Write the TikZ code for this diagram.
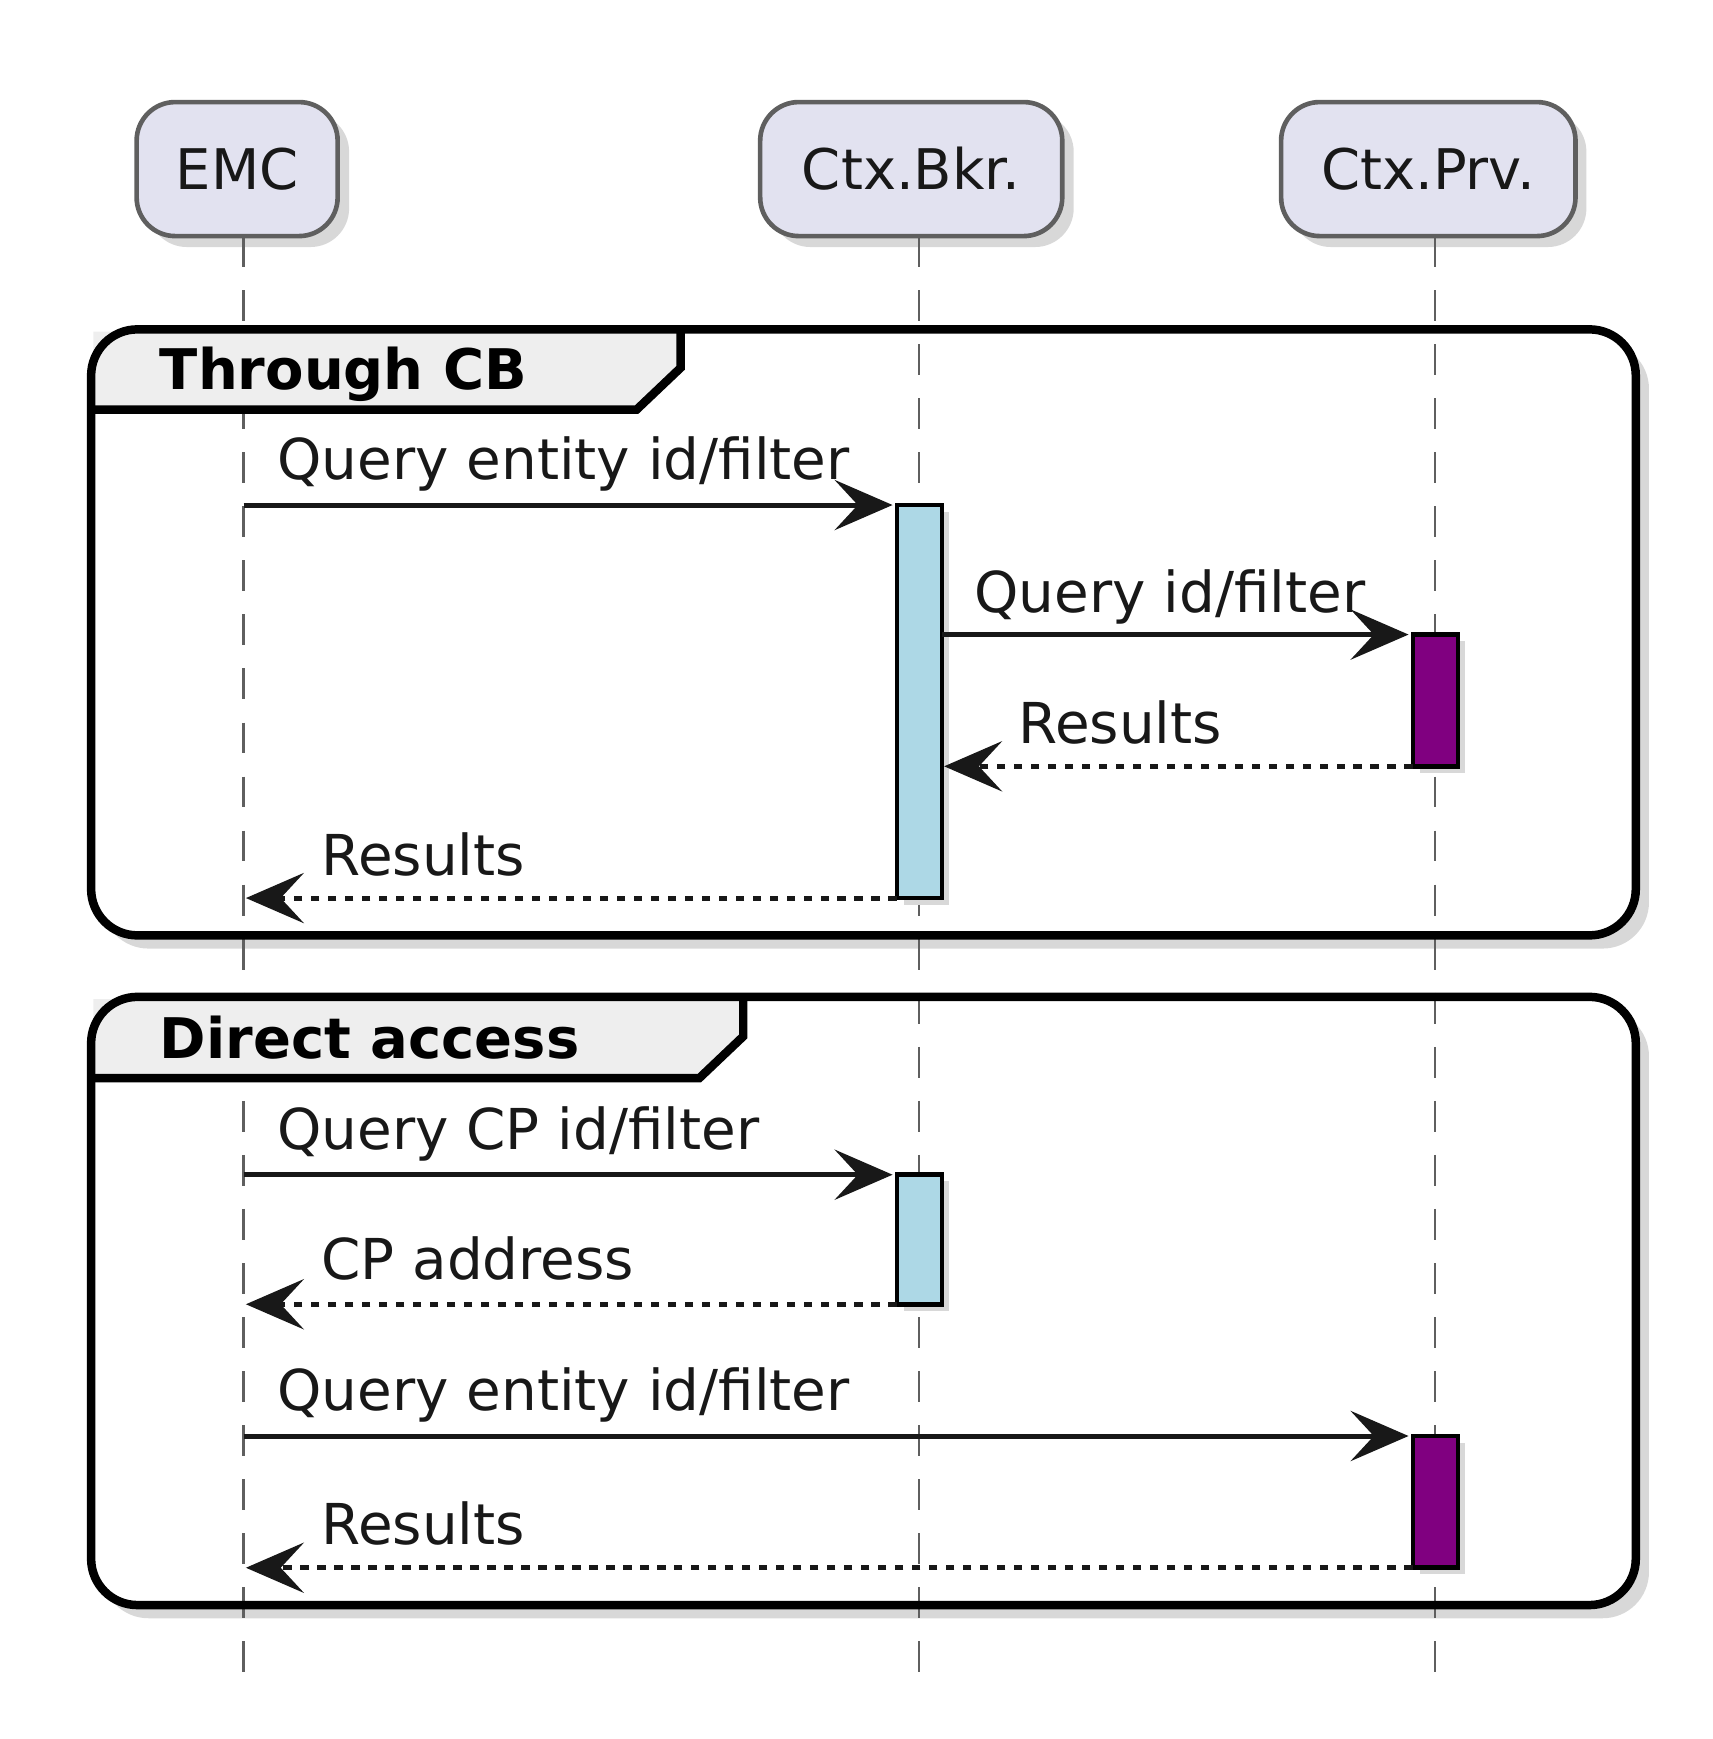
\documentclass[tikz,border=0pt]{standalone}
\usepackage{fontspec}
\setmainfont{DejaVu Sans}
\usetikzlibrary{arrows.meta,calc}
\definecolor{partfill}{HTML}{E2E2F0}
\definecolor{partdraw}{HTML}{5F5F5F}
\definecolor{shadowc}{HTML}{D8D8D8}
\definecolor{tabfill}{HTML}{EEEEEE}
\definecolor{actblue}{HTML}{ADD8E6}
\definecolor{actpurple}{HTML}{800080}
\definecolor{txt}{HTML}{181818}
\begin{document}
\begin{tikzpicture}[x=0.01cm,y=-0.01cm,
  part/.style={draw=partdraw,fill=partfill,rounded corners=10,line width=1.2pt,minimum height=1.22cm,text=txt,font=\fontsize{14.5}{18}\selectfont,inner sep=0},
  life/.style={draw=partdraw,line width=0.7pt,dash pattern=on 8pt off 6pt},
  grp/.style={draw=black,line width=2.2pt,rounded corners=12},
  act/.style={draw=black,line width=1.2pt},
  msg/.style={line width=1.3pt,draw=txt,-{Stealth[length=15pt,width=13pt,inset=6pt]}},
  ret/.style={msg,dash pattern=on 2.2pt off 2.2pt},
  lbl/.style={anchor=base west,text=txt,font=\fontsize{14.6}{17}\selectfont,inner sep=0},
  gtitle/.style={anchor=base west,font=\bfseries\fontsize{14.5}{17}\selectfont,inner sep=0}]
\useasboundingbox (0,0) rectangle (1560,1584);
\coordinate (emctop) at (222,215); \coordinate (emcbot) at (222,1532);
\coordinate (bkrtop) at (837,215); \coordinate (bkrbot) at (837,1532);
\coordinate (prvtop) at (1307,215); \coordinate (prvbot) at (1307,1532);
\draw[life] (emctop) -- (emcbot);
\draw[life] (bkrtop) -- (bkrbot);
\draw[life] (prvtop) -- (prvbot);
% participants
\fill[shadowc,rounded corners=10] (135,103) rectangle (318,225);
\node[part,minimum width=1.83cm] (pemc) at (216,154) {EMC};
\fill[shadowc,rounded corners=10] (703,103) rectangle (978,225);
\node[part,minimum width=2.75cm] (pbkr) at (830,154) {Ctx.Bkr.};
\fill[shadowc,rounded corners=10] (1177,103) rectangle (1445,225);
\node[part,minimum width=2.68cm] (pprv) at (1301,154) {Ctx.Prv.};
% group shadows
\fill[shadowc,rounded corners=12] (93,312) rectangle (1502,864);
\fill[shadowc,rounded corners=12] (93,920) rectangle (1502,1474);
\fill[white,rounded corners=12] (83,300) rectangle (1490,852);
\fill[white,rounded corners=12] (83,908) rectangle (1490,1462);
\draw[life] (emctop) -- (emcbot);
\draw[life] (bkrtop) -- (bkrbot);
\draw[life] (prvtop) -- (prvbot);
% group 1
\fill[tabfill] (85,302) -- (620,302) -- (620,335) -- (580,373) -- (85,373) -- cycle;
\draw[line width=2.2pt] (83,373) -- (580,373) -- (620,335) -- (620,300);
\node[gtitle] (g1) at (145,355) {Through CB};
\draw[grp] (83,300) rectangle (1490,852);
% group 2
\fill[tabfill] (85,910) -- (677,910) -- (677,944) -- (637,982) -- (85,982) -- cycle;
\draw[line width=2.2pt] (83,982) -- (637,982) -- (677,944) -- (677,908);
\node[gtitle] (g2) at (145,964) {Direct access};
\draw[grp] (83,908) rectangle (1490,1462);
% activations
\foreach \xa/\ya/\yb/\c in {817/460/818/actblue,1287/578/698/actpurple,817/1070/1188/actblue,1287/1308/1428/actpurple}{
  \fill[shadowc] (\xa+6,\ya+6) rectangle (\xa+47,\yb+6);
  \draw[act,fill=\c] (\xa,\ya) rectangle (\xa+41,\yb);
}
% message endpoints
\coordinate (m1s) at (222,460); \coordinate (m1e) at (813,460);
\coordinate (m2s) at (858,578); \coordinate (m2e) at (1283,578);
\coordinate (m3s) at (1287,698); \coordinate (m3e) at (860,698);
\coordinate (m4s) at (817,818); \coordinate (m4e) at (224,818);
\coordinate (m5s) at (222,1070); \coordinate (m5e) at (813,1070);
\coordinate (m6s) at (817,1188); \coordinate (m6e) at (224,1188);
\coordinate (m7s) at (222,1308); \coordinate (m7e) at (1283,1308);
\coordinate (m8s) at (1287,1428); \coordinate (m8e) at (224,1428);
\draw[msg] (m1s) -- (m1e);
\draw[msg] (m2s) -- (m2e);
\draw[ret] (m3s) -- (m3e);
\draw[ret] (m4s) -- (m4e);
\draw[msg] (m5s) -- (m5e);
\draw[ret] (m6s) -- (m6e);
\draw[msg] (m7s) -- (m7e);
\draw[ret] (m8s) -- (m8e);
\node[lbl] (l1) at (252,437) {Query entity id/filter};
\node[lbl] (l2) at (887,558) {Query id/filter};
\node[lbl] (l3) at (927,677) {Results};
\node[lbl] (l4) at (292,797) {Results};
\node[lbl] (l5) at (252,1047) {Query CP id/filter};
\node[lbl] (l6) at (292,1165) {CP address};
\node[lbl] (l7) at (252,1285) {Query entity id/filter};
\node[lbl] (l8) at (292,1407) {Results};
\end{tikzpicture}
\end{document}
